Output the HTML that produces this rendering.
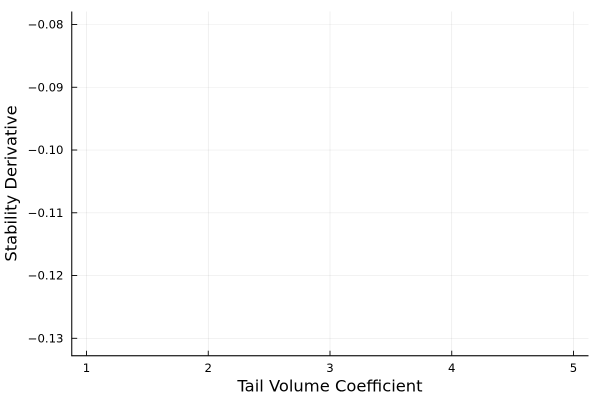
<!DOCTYPE html>
<html>
<head>
<meta charset="utf-8">
<title>Stability Derivative vs Tail Volume Coefficient</title>
<style>
html,body{margin:0;padding:0;background:#fff;}
svg{display:block;font-family:"DejaVu Sans","Liberation Sans",sans-serif;}
</style>
</head>
<body>
<svg id="chart" xmlns="http://www.w3.org/2000/svg" width="600" height="400" viewBox="0 0 600 400">
<rect x="0" y="0" width="600" height="400" fill="#ffffff"/>
<g id="grid"></g>
<g id="marks"></g>
<g id="axes"></g>
<text x="330" y="391.5" font-size="16.35" text-anchor="middle" fill="#000">Tail Volume Coefficient</text>
<text transform="translate(16.5,183.5) rotate(-90)" font-size="16.35" text-anchor="middle" fill="#000">Stability Derivative</text>
</svg>
<script>
const xTickValues = [1, 2, 3, 4, 5];
const yTickValues = [-0.08, -0.09, -0.10, -0.11, -0.12, -0.13];
const yTickLabels = ["\u22120.08", "\u22120.09", "\u22120.10", "\u22120.11", "\u22120.12", "\u22120.13"];
const seriesX = [];
const seriesY = [];

const plotLeft = 71.7, plotRight = 588.5, plotTop = 11.5, plotBottom = 355.7;
const ns = "http://www.w3.org/2000/svg";
function xScale(v) { return 86.5 + (v - 1) * (573.5 - 86.5) / 4; }
function yScale(v) { return 24.5 + (-0.08 - v) * (338.3 - 24.5) / 0.05; }
function make(parent, tag, attrs) {
  const el = document.createElementNS(ns, tag);
  for (const k in attrs) el.setAttribute(k, attrs[k]);
  parent.appendChild(el);
  return el;
}
const grid = document.getElementById("grid");
const axes = document.getElementById("axes");
const marks = document.getElementById("marks");

xTickValues.forEach(function (v) {
  const x = xScale(v);
  const g = make(grid, "line", {x1: x, x2: x, y1: plotTop, y2: plotBottom, stroke: "#000", "stroke-opacity": 0.1, "stroke-width": 0.6});
  
  
  const t = make(axes, "line", {x1: x, x2: x, y1: plotBottom, y2: plotBottom - 5, stroke: "#000", "stroke-width": 0.9});
  
  
  const l = make(axes, "text", {x: x, y: 372, "font-size": 11.7, "text-anchor": "middle", fill: "#000"});
  l.textContent = String(v);
  
  
});

yTickValues.forEach(function (v, i) {
  const y = yScale(v);
  const g = make(grid, "line", {x1: plotLeft, x2: plotRight, y1: y, y2: y, stroke: "#000", "stroke-opacity": 0.08, "stroke-width": 0.6});
  
  
  const t = make(axes, "line", {x1: plotLeft, x2: plotLeft + 5.5, y1: y, y2: y, stroke: "#000", "stroke-width": 0.9});
  
  
  const l = make(axes, "text", {x: 63.5, y: y + 4.2, "font-size": 11.7, "text-anchor": "end", fill: "#000"});
  l.textContent = yTickLabels[i];
  
  
});

if (seriesX.length) {
  const line = make(marks, "polyline", {
    points: seriesX.map(function (v, i) { return xScale(v) + "," + yScale(seriesY[i]); }).join(" "),
    fill: "none", stroke: "#009af9", "stroke-width": 1
  });
  
  
}

const yAxis = make(axes, "line", {x1: plotLeft, x2: plotLeft, y1: plotTop, y2: plotBottom + 0.6, stroke: "#000", "stroke-width": 1.3, "stroke-opacity": 0.8});


const xAxis = make(axes, "line", {x1: plotLeft, x2: plotRight, y1: plotBottom, y2: plotBottom, stroke: "#000", "stroke-width": 1.3, "stroke-opacity": 0.8});


</script>
</body>
</html>
